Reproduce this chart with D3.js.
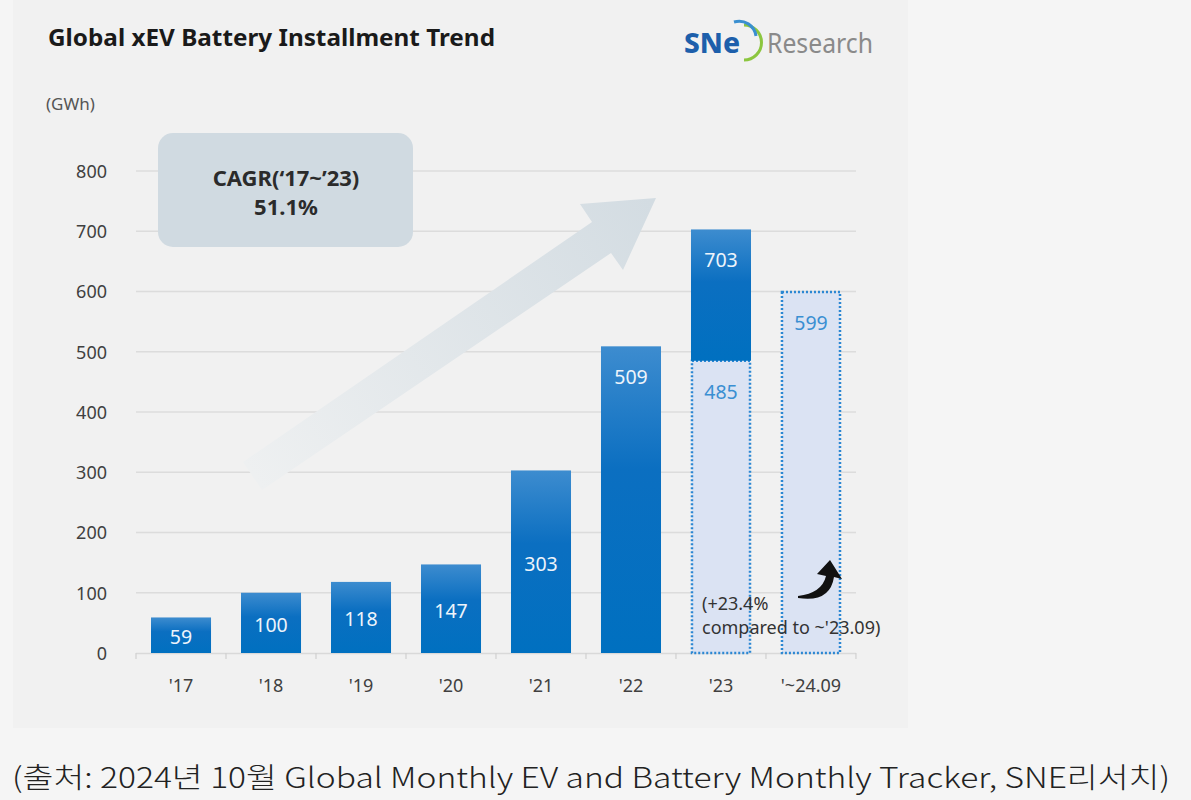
<!DOCTYPE html>
<html><head><meta charset="utf-8">
<script src="https://cdn.jsdelivr.net/npm/d3@7/dist/d3.min.js"></script>
<style>
html,body{margin:0;padding:0;background:#f5f5f5;}
svg{display:block;}
</style></head>
<body>
<svg id="c" width="1191" height="800"></svg>
<script>
// ---- data ----
const categories = ["'17","'18","'19","'20","'21","'22","'23","'~24.09"];
const annualValues = [59, 100, 118, 147, 303, 509, 703, null];   // full-year installations (GWh)
const ytdValues    = [null, null, null, null, null, null, 485, 599]; // Jan–Sep installations (GWh)
const yTicks = [0, 100, 200, 300, 400, 500, 600, 700, 800];
const titleText = "Global xEV Battery Installment Trend";
const unitText = "(GWh)";
const cagrLines = ["CAGR(\u201817~\u201923)", "51.1%"];
const noteLines = ["(+23.4%", "compared to ~'23.09)"];
const captionText = "(출처: 2024년 10월 Global Monthly EV and Battery Monthly Tracker, SNE리서치)";

const svg = d3.select("#c");
const defs = svg.append("defs");

// panel background
svg.append("rect").attr("x", 13).attr("y", 0).attr("width", 895).attr("height", 728).attr("fill", "#f1f1f1");

const y = d3.scaleLinear().domain([0, 800]).range([653, 171]);
const x = d3.scaleBand().domain(categories).range([136, 856]).paddingInner(0.333).paddingOuter(0.1667);

// gradients
const g1 = defs.append("linearGradient").attr("id", "barGrad").attr("x1", 0).attr("y1", 0).attr("x2", 0).attr("y2", 1);
g1.append("stop").attr("offset", "0%").attr("stop-color", "#3d8ccf");
g1.append("stop").attr("offset", "40%").attr("stop-color", "#0b6fc1");
g1.append("stop").attr("offset", "100%").attr("stop-color", "#0070c0");

const g2 = defs.append("linearGradient").attr("id", "arrowGrad").attr("gradientUnits", "userSpaceOnUse")
  .attr("x1", 250).attr("y1", 470).attr("x2", 650).attr("y2", 200);
g2.append("stop").attr("offset", "0%").attr("stop-color", "#eef0f1");
g2.append("stop").attr("offset", "100%").attr("stop-color", "#d3dce2");

const numFont = "'Noto Sans', sans-serif";

// gridlines
svg.append("g").selectAll("line").data(yTicks.filter(d => d > 0)).join("line")
  .attr("x1", 136).attr("x2", 856).attr("y1", d => y(d)).attr("y2", d => y(d))
  .attr("stroke", "#dcdcdc").attr("stroke-width", 1.5);

// y-axis labels
const yAxis = d3.axisLeft(y).tickValues(yTicks).tickSize(0).tickPadding(0);
const ya = svg.append("g").attr("transform", "translate(107,0)").call(yAxis);
ya.select(".domain").remove();
ya.selectAll("text").attr("font-family", numFont).attr("font-size", 18).attr("fill", "#404040").attr("dy", "0.35em");

svg.append("text").attr("x", 46).attr("y", 110).text(unitText)
  .attr("font-family", numFont).attr("font-size", 17).attr("fill", "#555");

// big background arrow
svg.append("path")
  .attr("d", "M243,462 L592,222 L580,204 L656,198 L623,270 L611,253 L262,490 Z")
  .attr("fill", "url(#arrowGrad)");

// CAGR box
svg.append("rect").attr("x", 158).attr("y", 133).attr("width", 255).attr("height", 114).attr("rx", 15)
  .attr("fill", "#d0dae1");
svg.append("g").selectAll("text").data(cagrLines).join("text")
  .attr("x", 286).attr("y", (d, i) => 186 + i * 29).attr("text-anchor", "middle")
  .attr("font-family", numFont).attr("font-weight", 700).attr("font-size", 22)
  .attr("fill", "#2b2b2b").text(d => d);

// x axis
svg.append("line").attr("x1", 136).attr("x2", 856).attr("y1", 653.5).attr("y2", 653.5).attr("stroke", "#d9d9d9").attr("stroke-width", 1.5);
svg.append("g").selectAll("line").data(d3.range(categories.length + 1)).join("line")
  .attr("x1", i => 136 + i * x.step()).attr("x2", i => 136 + i * x.step())
  .attr("y1", 653).attr("y2", 659).attr("stroke", "#d0d0d0").attr("stroke-width", 1.2);
const xAxis = d3.axisBottom(x).tickSize(0).tickPadding(0);
const xa = svg.append("g").attr("transform", "translate(0,686)").call(xAxis);
xa.select(".domain").remove();
xa.selectAll("text").attr("font-family", numFont).attr("font-size", 18).attr("fill", "#404040").attr("dy", "0.35em");

const bw = x.bandwidth();
const rows = categories.map((c, i) => ({ c, total: annualValues[i], ytd: ytdValues[i] }));

// YTD dashed bars
const ytdRows = rows.filter(d => d.ytd != null);
svg.append("g").selectAll("rect").data(ytdRows).join("rect")
  .attr("x", d => x(d.c) + 1).attr("width", bw - 2)
  .attr("y", d => y(d.ytd)).attr("height", d => y(0) - y(d.ytd))
  .attr("fill", "#dbe3f3").attr("stroke", "#2b87d3").attr("stroke-width", 2.5).attr("stroke-dasharray", "2,2");

// solid bars (upper part for stacked year)
const solidRows = rows.filter(d => d.total != null);
svg.append("g").selectAll("rect").data(solidRows).join("rect")
  .attr("x", d => x(d.c)).attr("width", bw)
  .attr("y", d => y(d.total))
  .attr("height", d => (d.ytd != null ? y(d.ytd) : y(0)) - y(d.total))
  .attr("fill", "url(#barGrad)");

// value labels
svg.append("g").selectAll("text").data(solidRows).join("text")
  .attr("x", d => x(d.c) + bw / 2)
  .attr("y", d => {
    const top = y(d.total), bottom = y(0);
    return (bottom - top > 250) ? top + 31 : (top + bottom) / 2 + 2;
  })
  .attr("dy", "0.35em").attr("text-anchor", "middle")
  .attr("font-family", numFont).attr("font-size", 19.5).attr("fill", "#eef4fb")
  .text(d => d.total);
svg.append("g").selectAll("text").data(ytdRows).join("text")
  .attr("x", d => x(d.c) + bw / 2).attr("y", d => y(d.ytd) + 31)
  .attr("dy", "0.35em").attr("text-anchor", "middle")
  .attr("font-family", numFont).attr("font-size", 19.5).attr("fill", "#3a8fd2")
  .text(d => d.ytd);

// growth note
svg.append("g").selectAll("text").data(noteLines).join("text")
  .attr("x", 702).attr("y", (d, i) => 610 + i * 24)
  .attr("font-family", numFont).attr("font-size", 18).attr("fill", "#333")
  .text(d => d);

// curved black arrow
svg.append("path")
  .attr("d", "M798,598 Q830,603 834,577 L842,579 L830,560 L817,574 L826,576 Q822,593 798,596 Z")
  .attr("fill", "#111");

// title
svg.append("text").attr("x", 48).attr("y", 46).text(titleText)
  .attr("font-family", numFont).attr("font-weight", 700).attr("font-size", 24)
  .attr("fill", "#1a1a1a").attr("textLength", 447).attr("lengthAdjust", "spacingAndGlyphs");

// logo
const logo = svg.append("g");
logo.append("text").attr("x", 684).attr("y", 53).text("SNe")
  .attr("font-family", numFont).attr("font-weight", 800).attr("font-size", 29)
  .attr("fill", "#1d5fab").attr("textLength", 56).attr("lengthAdjust", "spacingAndGlyphs");
logo.append("path").attr("d", "M744,25 A17,17 0 0 1 744,60").attr("fill", "none")
  .attr("stroke", "#8cc63f").attr("stroke-width", 3);
logo.append("path").attr("d", "M734,22 A17,17 0 0 1 756,36").attr("fill", "none")
  .attr("stroke", "#3a8fd0").attr("stroke-width", 3);
logo.append("text").attr("x", 767).attr("y", 53).text("Research")
  .attr("font-family", "'Liberation Sans Narrow', 'Noto Sans', sans-serif").attr("font-size", 28)
  .attr("fill", "#8a8a8a").attr("textLength", 106).attr("lengthAdjust", "spacingAndGlyphs");

// caption
svg.append("text").attr("x", 12).attr("y", 788).text(captionText)
  .attr("font-family", "'Noto Sans CJK KR', sans-serif").attr("font-weight", 300).attr("font-size", 28).attr("fill", "#222")
  .attr("textLength", 1158).attr("lengthAdjust", "spacingAndGlyphs");
</script>
</body></html>
